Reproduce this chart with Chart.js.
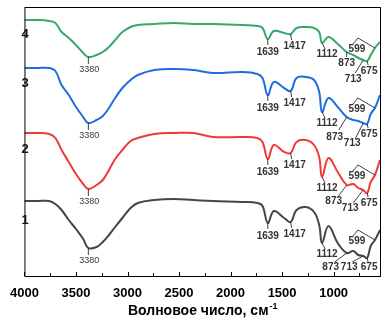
<!DOCTYPE html>
<html>
<head>
<meta charset="utf-8">
<script src="https://cdn.jsdelivr.net/npm/chart.js@4/dist/chart.umd.min.js"></script>
<style>
  html, body { margin: 0; padding: 0; background: #fff; }
</style>
</head>
<body>
<canvas id="ftirChart" width="387" height="327"></canvas>
<script>
"use strict";

//--------------------DATA

// wavenumber, cm-1 (axis runs from 4000 down to 550)
let wavenumbers = [
  4000, 3880, 3760, 3700, 3640, 3570, 3500, 3430, 3380,
  3300, 3240, 3180, 3120, 3050, 2970, 2900,
  2740, 2550, 2360, 2170,
  1880, 1740, 1690, 1639,
  1580, 1480, 1417,
  1360, 1270, 1190, 1140, 1112,
  1050, 960, 873,
  810, 760, 713, 675,
  640, 599, 550,
];

// transmittance, arbitrary units (spectra are stacked with an offset)
let sample1 = [
  75, 75, 75, 72, 66, 56, 47, 37, 28,
  29, 34, 41, 49, 58, 68, 73,
  76, 77, 76, 75,
  74, 73, 70, 53,
  65, 58, 54,
  66, 69, 64, 51, 33,
  50, 33, 23,
  25, 21, 20, 18,
  30, 36, 46,
];
let sample2 = [
  143, 143, 142, 138, 126, 114, 102, 92, 87,
  91, 96, 106, 117, 126, 135, 138,
  142, 143, 143, 139,
  139, 138, 134, 117,
  131, 124, 123,
  134, 136, 131, 119, 99,
  118, 104, 91,
  92, 88, 86, 83,
  94, 101, 116,
];
let sample3 = [
  208, 208, 208, 205, 191, 181, 169, 159, 153,
  156, 160, 168, 178, 188, 196, 201,
  206, 207, 206, 203,
  204, 202, 198, 181,
  194, 188, 185,
  198, 199, 196, 184, 164,
  178, 169, 159,
  156, 155, 153, 152,
  162, 168, 181,
];
let sample4 = [
  256, 256, 255, 253, 244, 238, 231, 223, 219,
  221, 224, 229, 236, 244, 249, 251,
  252, 253, 252, 252,
  251, 250, 248, 237,
  245, 243, 242,
  248, 249, 248, 244, 233,
  239, 232, 224,
  221, 218, 216, 215,
  221, 228, 234,
];

let sampleNames = ["1", "2", "3", "4"];
let allSamples = [sample1, sample2, sample3, sample4];

// band positions marked on every spectrum
let peaks = [3380, 1639, 1417, 1112, 873, 713, 675, 599];

// x axis labels
let tickValues = [4000, 3500, 3000, 2500, 2000, 1500, 1000];
let minorTickValues = [3750, 3250, 2750, 2250, 1750, 1250, 750];

//--------------------STYLES

const lineColors = ["#464646", "#ee3a3a", "#1f6ee0", "#35a86a"];
const sansFont = "'Liberation Sans', Arial, sans-serif";
const narrowFont = "'Liberation Sans Narrow', 'Liberation Sans', Arial, sans-serif";

// leader line end and label centre, relative to the band on the curve: [lx, ly, tx, ty]
const leaderDefaults = {
  3380: [0, 7, 1, 13],
  1639: [0, 6, 0, 13],
  1417: [1, 6, 4, 12],
  1112: [3, 6, 5, 11],
  873: [0, 5, 0, 11],
  713: [-8, 13, -10, 19],
  675: [1, 4, 2, 10],
};
// per spectrum tweaks (index into allSamples)
const leaderOverrides = [
  { 873: [-12, 9, -16, 14], 713: [-11, 6, -14, 11], 675: [1, 4, 2, 9] },
  { 873: [-9, 12, -13, 16], 713: [-10, 13, -13, 18] },
  { 873: [-8, 13, -12, 20], 713: [-8, 16, -11, 20] },
  {},
];
// y of the spectrum numbers on the left
const nameY = [220, 149, 83, 34];

//--------------------PLUGINS

function pointAt(chart, seriesIndex, wn) {
  let i = wavenumbers.indexOf(wn);
  return {
    x: chart.scales.x.getPixelForValue(wn),
    y: chart.scales.y.getPixelForValue(allSamples[seriesIndex][i]),
  };
}

function drawLine(ctx, x1, y1, x2, y2) {
  ctx.beginPath();
  ctx.moveTo(x1, y1);
  ctx.lineTo(x2, y2);
  ctx.stroke();
}

const decorations = {
  id: "decorations",
  afterDraw(chart) {
    const ctx = chart.ctx;
    const area = chart.chartArea;
    const xScale = chart.scales.x;

    ctx.save();

    // frame
    ctx.strokeStyle = "#000";
    ctx.lineWidth = 1;
    ctx.strokeRect(area.left + 0.5, area.top + 0.5, area.right - area.left, area.bottom - area.top);

    // inward ticks on the bottom axis
    for (let v of tickValues) {
      let x = Math.round(xScale.getPixelForValue(v)) + 0.5;
      drawLine(ctx, x, area.bottom, x, area.bottom - 4);
    }
    for (let v of minorTickValues) {
      let x = Math.round(xScale.getPixelForValue(v)) + 0.5;
      drawLine(ctx, x, area.bottom, x, area.bottom - 3);
    }

    // spectrum numbers
    ctx.fillStyle = "#111";
    ctx.font = "bold 13px " + sansFont;
    ctx.textAlign = "center";
    ctx.textBaseline = "middle";
    for (let s = 0; s < sampleNames.length; s++) {
      ctx.fillText(sampleNames[s], 25, nameY[s]);
    }

    // band labels with leader lines
    ctx.strokeStyle = "#111";
    ctx.lineWidth = 0.8;
    for (let s = 0; s < allSamples.length; s++) {
      for (let wn of peaks) {
        let p = pointAt(chart, s, wn);
        if (wn === 599) {
          // caret: label -> apex -> curve
          let ax = p.x - 17, ay = p.y - 10;
          drawLine(ctx, p.x - 22, p.y - 4, ax, ay);
          drawLine(ctx, ax, ay, p.x, p.y);
          ctx.fillStyle = "#333";
          ctx.font = "bold 10px " + narrowFont;
          ctx.fillText(String(wn), p.x - 18, p.y + 1);
          continue;
        }
        let spot = leaderOverrides[s][wn] || leaderDefaults[wn];
        drawLine(ctx, p.x, p.y, p.x + spot[0], p.y + spot[1]);
        if (wn === 3380) {
          ctx.fillStyle = "#3a3a3a";
          ctx.font = "9px " + sansFont;
        } else {
          ctx.fillStyle = "#333";
          ctx.font = "bold 10px " + narrowFont;
        }
        ctx.fillText(String(wn), p.x + spot[2], p.y + spot[3]);
      }
    }

    // axis title with superscript
    const main = "Волновое число, см";
    const sup = "-1";
    ctx.fillStyle = "#000";
    ctx.textAlign = "left";
    ctx.textBaseline = "alphabetic";
    ctx.font = "bold 14px " + sansFont;
    let w1 = ctx.measureText(main).width;
    ctx.font = "bold 9px " + sansFont;
    let w2 = ctx.measureText(sup).width;
    let cx = (area.left + area.right) / 2;
    let startX = cx - (w1 + w2) / 2;
    ctx.font = "bold 14px " + sansFont;
    ctx.fillText(main, startX, 315);
    ctx.font = "bold 9px " + sansFont;
    ctx.fillText(sup, startX + w1 + 1, 309);

    ctx.restore();
  },
};

//--------------------CHART

function buildDatasets() {
  let sets = [];
  for (let s = 0; s < allSamples.length; s++) {
    let pts = [];
    for (let i = 0; i < wavenumbers.length; i++) {
      pts.push({ x: wavenumbers[i], y: allSamples[s][i] });
    }
    sets.push({
      label: sampleNames[s],
      data: pts,
      borderColor: lineColors[s],
      borderWidth: 2,
      pointRadius: 0,
      tension: 0.4,
      fill: false,
    });
  }
  return sets;
}

const ctx = document.getElementById("ftirChart").getContext("2d");
const ftirChart = new Chart(ctx, {
  type: "line",
  data: { datasets: buildDatasets() },
  options: {
    responsive: false,
    animation: false,
    devicePixelRatio: 1,
    layout: { padding: { left: 17, right: 7, top: 7, bottom: 0 } },
    plugins: {
      legend: { display: false },
      tooltip: { enabled: false },
    },
    scales: {
      x: {
        type: "linear",
        reverse: true,
        min: 550,
        max: 4000,
        grid: { display: false, drawTicks: false },
        border: { display: false },
        afterBuildTicks: (axis) => {
          axis.ticks = tickValues.map((v) => ({ value: v }));
        },
        afterFit: (axis) => {
          axis.height = 51;
        },
        ticks: {
          autoSkip: false,
          maxRotation: 0,
          padding: 10,
          color: "#000",
          font: { family: sansFont, size: 13, weight: "bold" },
          callback: (value) => String(value),
        },
      },
      y: { display: false, min: 0, max: 269 },
    },
  },
  plugins: [decorations],
});
</script>
</body>
</html>
